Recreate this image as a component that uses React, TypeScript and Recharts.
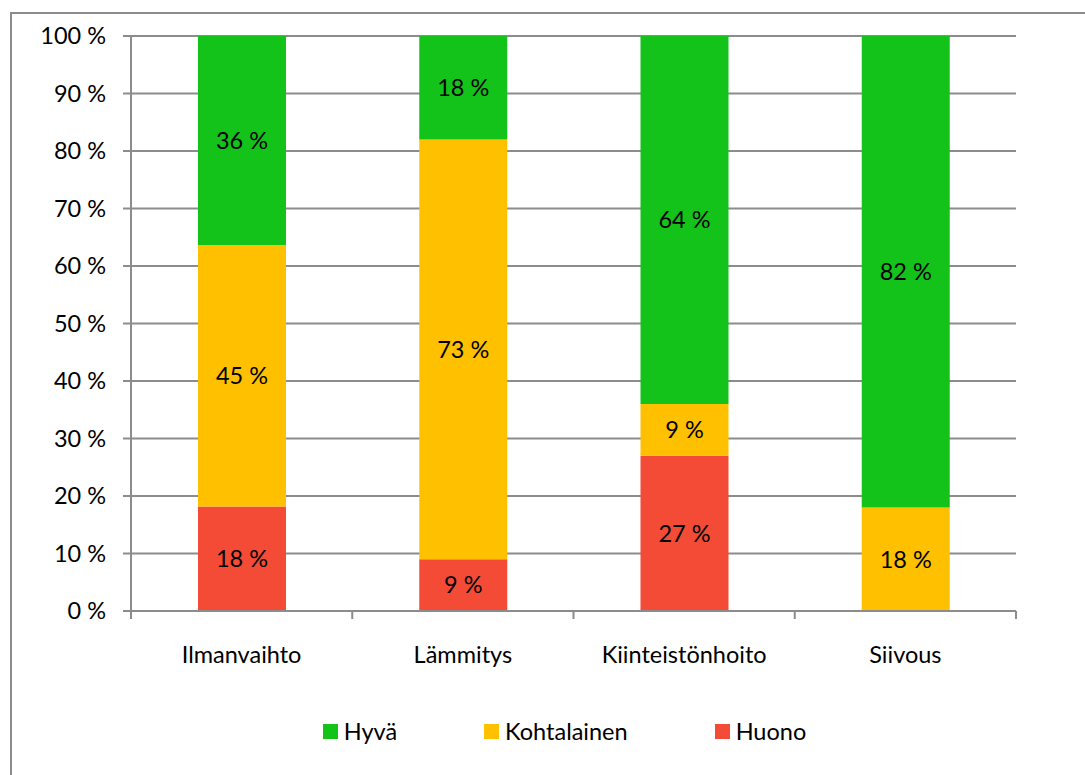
import { BarChart, Bar, XAxis, YAxis, CartesianGrid, Legend, LabelList } from 'recharts';

const categories = ['Ilmanvaihto', 'Lämmitys', 'Kiinteistönhoito', 'Siivous'];
const huono = [18, 9, 27, 0];
const kohtalainen = [45, 73, 9, 18];
const hyva = [36, 18, 64, 82];
const yTicks = [0, 10, 20, 30, 40, 50, 60, 70, 80, 90, 100];

const seriesInfo = [
    { key: 'hyva', name: 'Hyvä', color: '#13C31A' },
    { key: 'kohtalainen', name: 'Kohtalainen', color: '#FFC000' },
    { key: 'huono', name: 'Huono', color: '#F44B37' },
];

const data = categories.map((c, i) => ({
    name: c,
    huono: huono[i],
    kohtalainen: kohtalainen[i],
    hyva: hyva[i],
}));

const FONT = 'Lato, "Noto Sans", sans-serif';
const FS = 23.5;
const W = 1075;
const H = 760;
const M = { top: 22, right: 71, left: 0, bottom: 75 };
const Y_W = 119;
const GRID = '#8c8c8c';

const pct = (v: any) => (Number(v) === 0 ? '' : `${v} %`);

function XTick(props: any) {
    const { x, y, payload, index } = props;
    const band = (W - M.left - M.right - Y_W) / categories.length;
    return (
        <g>
            <line x1={x - band / 2} x2={x - band / 2} y1={y - 8} y2={y} stroke={GRID} strokeWidth={2} />
            {index === categories.length - 1 && (
                <line x1={x + band / 2} x2={x + band / 2} y1={y - 8} y2={y} stroke={GRID} strokeWidth={2} />
            )}
            <text x={x} y={y + 44} textAnchor="middle" fontSize={FS} fill="#000" fontFamily={FONT}>
                {payload.value}
            </text>
        </g>
    );
}

function LegendBox() {
    return (
        <div style={{ display: 'flex', justifyContent: 'center', gap: 87, fontFamily: FONT, fontSize: FS }}>
            {seriesInfo.map((s) => (
                <div key={s.key} style={{ display: 'flex', alignItems: 'center' }}>
                    <span style={{ width: 15, height: 15, background: s.color, display: 'inline-block', marginRight: 6 }} />
                    <span>{s.name}</span>
                </div>
            ))}
        </div>
    );
}

export default function App() {
    return (
        <div style={{ position: 'fixed', left: 0, top: 0, width: 1085, height: 775, overflow: 'hidden', background: '#fff' }}>
            <div style={{ position: 'absolute', left: 10, top: 12, width: W + 20, height: H + 20, border: '2px solid #8c8c8c', boxSizing: 'border-box' }}>
                <BarChart width={W} height={H} data={data} stackOffset="expand" margin={M} barSize={88}>
                    <CartesianGrid horizontal vertical={false} stroke={GRID} strokeWidth={2} />
                    <XAxis
                        dataKey="name"
                        tickLine={false}
                        axisLine={{ stroke: GRID, strokeWidth: 2 }}
                        tick={<XTick />}
                        interval={0}
                        height={60}
                    />
                    <YAxis
                        width={Y_W}
                        domain={[0, 1]}
                        ticks={yTicks.map((t) => t / 100)}
                        tickFormatter={(v: number) => `${Math.round(v * 100)} %`}
                        tickSize={8}
                        tickMargin={17}
                        axisLine={{ stroke: GRID, strokeWidth: 2 }}
                        tickLine={{ stroke: GRID, strokeWidth: 2 }}
                        tick={{ fontSize: FS, fill: '#000', fontFamily: FONT }}
                    />
                    <Legend
                        content={<LegendBox />}
                        wrapperStyle={{ top: 703, left: 15, width: W }}
                    />
                    <Bar dataKey="huono" name="Huono" stackId="a" fill="#F44B37" isAnimationActive={false}>
                        <LabelList dataKey="huono" position="center" formatter={pct} fill="#000" fontSize={FS} fontFamily={FONT} />
                    </Bar>
                    <Bar dataKey="kohtalainen" name="Kohtalainen" stackId="a" fill="#FFC000" isAnimationActive={false}>
                        <LabelList dataKey="kohtalainen" position="center" formatter={pct} fill="#000" fontSize={FS} fontFamily={FONT} />
                    </Bar>
                    <Bar dataKey="hyva" name="Hyvä" stackId="a" fill="#13C31A" isAnimationActive={false}>
                        <LabelList dataKey="hyva" position="center" formatter={pct} fill="#000" fontSize={FS} fontFamily={FONT} />
                    </Bar>
                </BarChart>
            </div>
        </div>
    );
}
